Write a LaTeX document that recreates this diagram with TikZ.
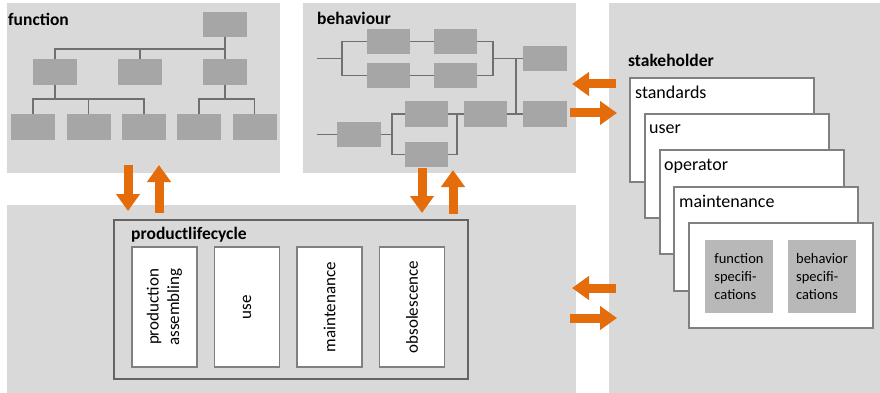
\documentclass[tikz,border=0pt]{standalone}
\usepackage{fontspec}
\setmainfont{Carlito}
\usetikzlibrary{arrows.meta,calc}
\definecolor{panelc}{RGB}{217,217,217}
\definecolor{boxc}{RGB}{166,166,166}
\definecolor{specc}{RGB}{184,184,184}
\definecolor{linec}{RGB}{112,112,112}
\definecolor{cardc}{RGB}{128,128,128}
\definecolor{plcc}{RGB}{100,100,100}
\definecolor{orangec}{RGB}{228,108,10}
\tikzset{
  gbox/.style={fill=boxc, draw=none, inner sep=0pt, minimum width=44pt, minimum height=25.5pt},
  tree/.style={draw=linec, line width=1.6pt},
  title/.style={font=\fontsize{17.5}{20}\selectfont\bfseries, anchor=base west, inner sep=0pt},
  card/.style={fill=white, draw=cardc, line width=1.6pt, anchor=north west, inner sep=0pt, minimum width=184pt, minimum height=104pt},
  cardtxt/.style={font=\fontsize{18}{21}\selectfont, anchor=base west, inner sep=0pt},
  phase/.style={fill=white, draw=cardc, line width=1.5pt, inner sep=0pt, minimum width=65pt, minimum height=120pt},
  phasetxt/.style={font=\fontsize{17}{20.5}\selectfont, rotate=90, align=center, inner sep=0pt},
  spec/.style={fill=specc, draw=none, inner sep=0pt, minimum width=68pt, minimum height=73pt},
  spectxt/.style={font=\fontsize{14.5}{18}\selectfont, align=left, inner sep=0pt},
  fat/.style={draw=orangec, line width=9pt, -{Triangle[width=23pt,length=17pt]}}
}
\begin{document}
\begin{tikzpicture}[x=1pt,y=-1pt]
\useasboundingbox (0,0) rectangle (880,393);
\fill[white] (0,0) rectangle (880,393);
% panels
\fill[panelc] (7,3) rectangle (280,173);
\fill[panelc] (303,3) rectangle (576,173);
\fill[panelc] (609,3) rectangle (880,393);
\fill[panelc] (7,205) rectangle (576,393);

% ---------- function ----------
\node[title] (tfun) at (8,26) {function};
\node[gbox] (f0) at (225,24.5) {};
\node[gbox] (f1) at (55,72) {};
\node[gbox] (f2) at (140,72) {};
\node[gbox] (f3) at (225,72) {};
\node[gbox] (f4) at (33,127) {};
\node[gbox] (f5) at (88.5,127) {};
\node[gbox] (f6) at (144,127) {};
\node[gbox] (f7) at (199,127) {};
\node[gbox] (f8) at (254.5,127) {};
\draw[tree] (f0.south) -- (f3.north);
\draw[tree] (f1.north) -- ++(0,-10.25) -| (f3.north);
\draw[tree] (f2.north) -- ++(0,-10.25);
\draw[tree] (f1.south) -- ++(0,14.25);
\draw[tree] (f4.north) -- ++(0,-15) -| (f6.north);
\draw[tree] (f5.north) -- ++(0,-15);
\draw[tree] (f3.south) -- ++(0,14.25);
\draw[tree] (f7.north) -- ++(0,-15) -| (f8.north);

% ---------- behaviour ----------
\node[title] (tbeh) at (317,25) {behaviour};
\node[gbox, minimum width=43pt] (b1) at (388.5,41.5) {};
\node[gbox, minimum width=43pt] (b2) at (455.5,41.5) {};
\node[gbox, minimum width=43pt] (b3) at (388.5,75.5) {};
\node[gbox, minimum width=43pt] (b4) at (455.5,75.5) {};
\node[gbox] (b5) at (545,58.5) {};
\node[gbox] (b6) at (545,114) {};
\node[gbox] (b7) at (359,134.5) {};
\node[gbox, minimum width=43pt] (b8) at (426.5,114) {};
\node[gbox, minimum width=43pt] (b9) at (426.5,154.5) {};
\node[gbox, minimum width=43pt] (b10) at (485.5,114) {};
\coordinate (in1) at (317,58.5);
\coordinate (in2) at (317,134.5);
\coordinate (j1) at (342,58.5);
\coordinate (j2) at (493,58.5);
\draw[tree] (in1) -- (j1);
\draw[tree] (b1.west) -- ++(-25,0) |- (b3.west);
\draw[tree] (b1.east) -- (b2.west);
\draw[tree] (b3.east) -- (b4.west);
\draw[tree] (b2.east) -- ++(16,0) |- (b4.east);
\draw[tree] (j2) -- (b5.west);
\draw[tree] ($(b5.west)+(-7,0)$) -- ($(b6.west)+(-7,0)$);
\draw[tree] (in2) -- (b7.west);
\draw[tree] (b7.east) -- ++(11,0);
\draw[tree] (b8.west) -- ++(-13,0) |- (b9.west);
\draw[tree] (b8.east) -- ++(9,0) |- (b9.east);
\draw[tree] (b8.east) -- (b10.west);
\draw[tree] (b10.east) -- (b6.west);

% ---------- product lifecycle ----------
\node[draw=plcc, line width=2pt, fill=panelc, anchor=north west, inner sep=0pt, minimum width=354pt, minimum height=159pt] (plc) at (113,219) {};
\node[title] (tplc) at (131,239) {productlifecycle};
\node[phase] (p1) at (164.5,307) {};
\node[phase] (p2) at (247,307) {};
\node[phase] (p3) at (329.5,307) {};
\node[phase] (p4) at (412,307) {};
\node[phasetxt] (p1t) at (p1) {production\\assembling};
\node[phasetxt] (p2t) at (p2) {use};
\node[phasetxt] (p3t) at (p3) {maintenance};
\node[phasetxt] (p4t) at (p4) {obsolescence};

% ---------- stakeholder ----------
\node[title] (tstk) at (628,67) {stakeholder};
\node[card] (c1) at (629,77) {};
\node[cardtxt] (c1t) at (635,99) {standards};
\node[card] (c2) at (644,113) {};
\node[cardtxt] (c2t) at (649,134) {user};
\node[card] (c3) at (659,149) {};
\node[cardtxt] (c3t) at (664,170) {operator};
\node[card] (c4) at (673,186) {};
\node[cardtxt] (c4t) at (679,207) {maintenance};
\node[card, minimum height=105pt] (c5) at (688,222) {};
\node[spec] (s1) at (739,276.5) {};
\node[spec] (s2) at (822,276.5) {};
\node[spectxt] (s1t) at (s1) {function\\specifi-\\cations};
\node[spectxt] (s2t) at (s2) {behavior\\specifi-\\cations};

% ---------- arrows ----------
\coordinate (a1s) at (128,165); \coordinate (a1e) at (128,211);
\coordinate (a2s) at (159,213); \coordinate (a2e) at (159,165);
\coordinate (a3s) at (422,168); \coordinate (a3e) at (422,213);
\coordinate (a4s) at (453,214); \coordinate (a4e) at (453,170);
\coordinate (a5s) at (616,84);  \coordinate (a5e) at (572,84);
\coordinate (a6s) at (570,113); \coordinate (a6e) at (617,113);
\coordinate (a7s) at (616,288); \coordinate (a7e) at (572,288);
\coordinate (a8s) at (570,318); \coordinate (a8e) at (617,318);
\draw[fat] (a1s) -- (a1e);
\draw[fat] (a2s) -- (a2e);
\draw[fat] (a3s) -- (a3e);
\draw[fat] (a4s) -- (a4e);
\draw[fat] (a5s) -- (a5e);
\draw[fat] (a6s) -- (a6e);
\draw[fat] (a7s) -- (a7e);
\draw[fat] (a8s) -- (a8e);
\end{tikzpicture}
\end{document}
